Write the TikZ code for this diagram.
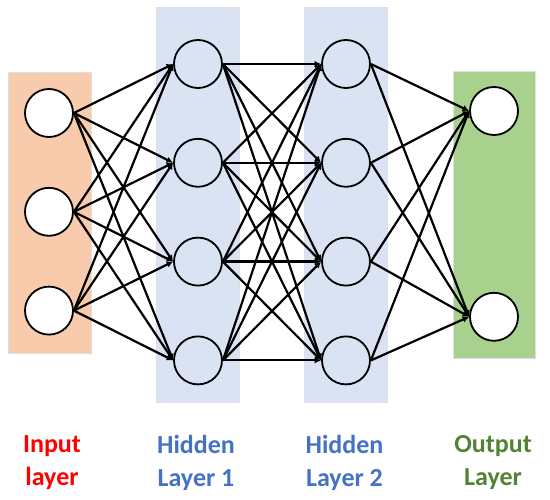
\documentclass[tikz,border=0pt]{standalone}
\usepackage{fontspec}
\setmainfont{Carlito}
\usetikzlibrary{arrows.meta,positioning}
\definecolor{cinput}{RGB}{248,203,173}
\definecolor{chidden}{RGB}{218,227,243}
\definecolor{coutput}{RGB}{169,209,142}
\definecolor{tinput}{RGB}{255,0,0}
\definecolor{thidden}{RGB}{68,114,196}
\definecolor{toutput}{RGB}{84,130,53}

\begin{document}
\begin{tikzpicture}[x=1pt,y=-1pt,>={Latex[length=6.5pt,width=6.5pt]},node distance=49pt,
  neuron/.style={circle,draw,line width=1.8pt,minimum size=48pt,inner sep=0pt},
  band/.style={draw=black!12,line width=0.8pt},
  lbl/.style={font=\fontsize{26}{33}\selectfont\bfseries,align=center},
  link/.style={->,line width=2.2pt}]
  \useasboundingbox (0,0) rectangle (550,500);
  % layer bands
  \filldraw[band,fill=cinput] (8,72) rectangle (91,353);
  \filldraw[band,fill=chidden] (156,7) rectangle (239,402);
  \filldraw[band,fill=chidden] (304,7) rectangle (387,402);
  \filldraw[band,fill=coutput] (453,71) rectangle (535,358);
  % neurons
  \node[neuron,fill=white] (in1) at (49,113) {};
  \node[neuron,fill=white,below=of in1] (in2) {};
  \node[neuron,fill=white,below=of in2] (in3) {};
  \node[neuron,fill=chidden] (a1) at (198,64) {};
  \node[neuron,fill=chidden,below=of a1] (a2) {};
  \node[neuron,fill=chidden,below=of a2] (a3) {};
  \node[neuron,fill=chidden,below=of a3] (a4) {};
  \node[neuron,fill=chidden] (b1) at (346,64) {};
  \node[neuron,fill=chidden,below=of b1] (b2) {};
  \node[neuron,fill=chidden,below=of b2] (b3) {};
  \node[neuron,fill=chidden,below=of b3] (b4) {};
  \node[neuron,fill=white] (out1) at (494,111) {};
  \node[neuron,fill=white,below=156pt of out1] (out2) {};
  % connections
  \foreach \s in {in1,in2,in3}
    \foreach \t in {a1,a2,a3,a4}
      \draw[link] (\s.east) -- (\t.west);
  \foreach \s in {a1,a2,a3,a4}
    \foreach \t in {b1,b2,b3,b4}
      \draw[link] (\s.east) -- (\t.west);
  \foreach \s in {b1,b2,b3,b4}
    \foreach \t in {out1,out2}
      \draw[link] (\s.east) -- (\t.west);
  % labels
  \node[lbl,text=tinput] (linput) at (52,463) {Input\\layer};
  \node[lbl,text=thidden] (lhid1) at (196,463) {Hidden\\Layer 1};
  \node[lbl,text=thidden] (lhid2) at (344.5,463) {Hidden\\Layer 2};
  \node[lbl,text=toutput] (loutput) at (493,463) {Output\\Layer};
\end{tikzpicture}
\end{document}
